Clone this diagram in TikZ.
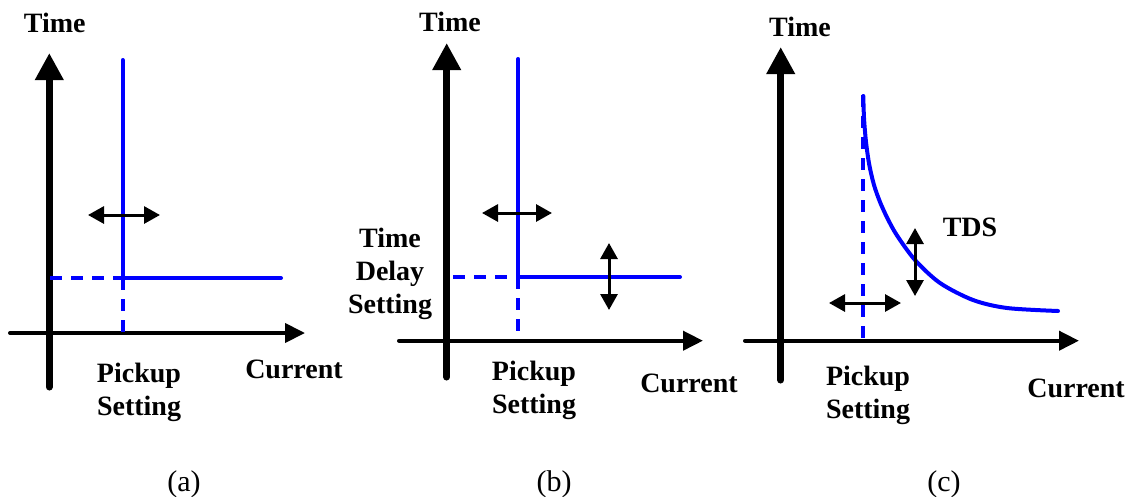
\documentclass[tikz,border=0pt]{standalone}
\usepackage{fontspec}
\setmainfont{Liberation Serif}
\usetikzlibrary{arrows.meta}
\definecolor{curveblue}{RGB}{0,0,255}

\tikzset{
  yaxis/.style={line width=7pt, line cap=round, -{Triangle[length=27pt,width=27pt]}},
  xaxis/.style={line width=4pt, line cap=round, -{Triangle[length=20pt,width=19pt]}},
  charline/.style={curveblue, line width=4pt, line cap=round},
  guide/.style={curveblue, line width=4pt, dash pattern=on 12pt off 9pt},
  adjust/.style={line width=3pt, {Triangle[length=16pt,width=17pt]}-{Triangle[length=16pt,width=17pt]}},
  lbl/.style={font=\bfseries\fontsize{28}{33}\selectfont, align=center, anchor=base, inner sep=0pt},
  subcap/.style={font=\fontsize{30}{33}\selectfont, anchor=base, inner sep=0pt},
}

\begin{document}
\begin{tikzpicture}[x=1pt, y=-1pt]
\useasboundingbox (0,0) rectangle (1131,496);

% ---------------- (a) definite-time pickup ----------------
\coordinate (a-yb) at (49.3,387);
\coordinate (a-yt) at (49.3,53);
\coordinate (a-xl) at (10,333);
\coordinate (a-xr) at (305,333);
\coordinate (a-top) at (122.7,60);
\coordinate (a-knee) at (122.7,278);
\coordinate (a-end) at (281,278);
\coordinate (a-tl) at (50,278);
\coordinate (a-pb) at (122.7,335);
\coordinate (a-hl) at (88,215);
\coordinate (a-hr) at (160,215);

\draw[yaxis] (a-yb) -- (a-yt);
\draw[xaxis] (a-xl) -- (a-xr);
\draw[guide] (a-tl) -- (a-knee);
\draw[guide] (a-knee) -- (a-pb);
\draw[charline] (a-top) -- (a-knee) -- (a-end);
\draw[adjust] (a-hl) -- (a-hr);

% multi-line labels are anchored at the baseline of their last line
\node[lbl] (a-time) at (54.7,32) {Time};
\node[lbl] (a-pick) at (139,415) {Pickup\\Setting};
\node[lbl] (a-cur) at (294,378) {Current};
\node[subcap] (a-cap) at (184,491) {(a)};

% ---------------- (b) pickup and time delay ----------------
\coordinate (b-yb) at (446.7,377);
\coordinate (b-yt) at (446.7,43);
\coordinate (b-xl) at (399,340.7);
\coordinate (b-xr) at (703,340.7);
\coordinate (b-top) at (518.3,59);
\coordinate (b-knee) at (518.3,277);
\coordinate (b-end) at (680,277);
\coordinate (b-tl) at (453,277);
\coordinate (b-pb) at (518.3,338);
\coordinate (b-hl) at (482,213);
\coordinate (b-hr) at (552,213);
\coordinate (b-vt) at (609,243);
\coordinate (b-vb) at (609,310);

\draw[yaxis] (b-yb) -- (b-yt);
\draw[xaxis] (b-xl) -- (b-xr);
\draw[guide] (b-tl) -- (b-knee);
\draw[guide] (b-knee) -- (b-pb);
\draw[charline] (b-top) -- (b-knee) -- (b-end);
\draw[adjust] (b-hl) -- (b-hr);
\draw[adjust] (b-vt) -- (b-vb);

\node[lbl] (b-time) at (450,31) {Time};
\node[lbl] (b-tds) at (390,313) {Time\\Delay\\Setting};
\node[lbl] (b-pick) at (534,413) {Pickup\\Setting};
\node[lbl] (b-cur) at (689,392) {Current};
\node[subcap] (b-cap) at (554,491) {(b)};

% ---------------- (c) inverse-time characteristic ----------------
\coordinate (c-yb) at (780.7,380);
\coordinate (c-yt) at (780.7,47);
\coordinate (c-xl) at (745,340.7);
\coordinate (c-xr) at (1079,340.7);
\coordinate (c-pt) at (863.3,95);
\coordinate (c-pb) at (863.3,340);
\coordinate (c-hl) at (829,303);
\coordinate (c-hr) at (901,303);
\coordinate (c-vt) at (915,228);
\coordinate (c-vb) at (915,296);

\draw[yaxis] (c-yb) -- (c-yt);
\draw[xaxis] (c-xl) -- (c-xr);
\draw[guide] (c-pt) -- (c-pb);
\draw[charline] plot[smooth, tension=0.5] coordinates
  {(863.3,96) (864,118) (866,142) (869.3,165) (874,185) (880,202) (887.3,218)
   (896.7,235) (915,260) (940,283) (973,300) (1007,308) (1058,311)};
\draw[adjust] (c-hl) -- (c-hr);
\draw[adjust] (c-vt) -- (c-vb);

\node[lbl] (c-time) at (800,36) {Time};
\node[lbl] (c-tdsl) at (970,236) {TDS};
\node[lbl] (c-pick) at (868,418) {Pickup\\Setting};
\node[lbl] (c-cur) at (1076,397) {Current};
\node[subcap] (c-cap) at (944,491) {(c)};
\end{tikzpicture}
\end{document}
